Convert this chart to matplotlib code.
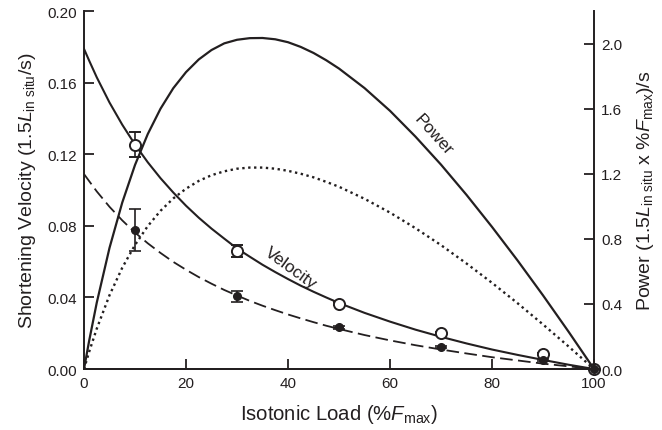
import numpy as np
import matplotlib
matplotlib.use("Agg")
import matplotlib.pyplot as plt

plt.rcParams['font.family'] = ['Liberation Sans', 'DejaVu Sans']
plt.rcParams['mathtext.fontset'] = 'custom'
plt.rcParams['mathtext.rm'] = 'Liberation Sans'
plt.rcParams['mathtext.it'] = 'Liberation Sans:italic'

ink = '#231f20'

# curve values (load in %Fmax)
load = [0, 1, 2.5, 5, 7.5, 10, 12.5, 15, 17.5, 20, 22.5, 25, 27.5, 30, 32.5,
        35, 37.5, 40, 42.5, 45, 47.5, 50, 55, 60, 65, 70, 75, 80, 85, 90,
        95, 100]
vel_solid = [0.179, 0.1725, 0.1631, 0.1490, 0.1366, 0.1255, 0.1156, 0.1067,
             0.0987, 0.0913, 0.0846, 0.0785, 0.0729, 0.0674, 0.0628, 0.0583,
             0.0542, 0.0503, 0.0466, 0.0432, 0.0400, 0.0369, 0.0314, 0.0265,
             0.0220, 0.0180, 0.0143, 0.0109, 0.0079, 0.0051, 0.0024, 0.0]
vel_dashed = [0.109, 0.1051, 0.0993, 0.0907, 0.0831, 0.0763, 0.0703, 0.0649,
              0.0599, 0.0555, 0.0514, 0.0477, 0.0442, 0.0411, 0.0381, 0.0354,
              0.0329, 0.0305, 0.0283, 0.0262, 0.0242, 0.0224, 0.0190, 0.0160,
              0.0133, 0.0109, 0.0087, 0.0066, 0.0048, 0.0030, 0.0015, 0.0]
pow_solid = [0.0, 0.172, 0.408, 0.745, 1.024, 1.255, 1.445, 1.601, 1.727,
             1.826, 1.904, 1.962, 2.003, 2.025, 2.035, 2.036, 2.028, 2.010,
             1.981, 1.944, 1.899, 1.848, 1.728, 1.588, 1.429, 1.257, 1.071,
             0.874, 0.668, 0.453, 0.230, 0.0]
pow_dotted = [0.0, 0.105, 0.248, 0.454, 0.623, 0.763, 0.879, 0.973, 1.049,
              1.109, 1.157, 1.192, 1.216, 1.232, 1.239, 1.239, 1.232, 1.219,
              1.201, 1.179, 1.151, 1.121, 1.047, 0.962, 0.866, 0.762, 0.649,
              0.530, 0.405, 0.274, 0.139, 0.0]

# measured points
pt_load = [10, 30, 50, 70, 90, 100]
open_v = [0.1254, 0.0662, 0.0364, 0.0203, 0.0084, 0.0]
open_err = [0.007, 0.0033, 0.0008, 0.0006, 0.0005, 0.0]
filled_v = [0.0779, 0.0407, 0.0233, 0.0121, 0.0052, 0.0]
filled_err = [0.0117, 0.003, 0.0008, 0.0006, 0.0005, 0.0]

fig = plt.figure(figsize=(6.62, 4.31), dpi=100)
ax = fig.add_axes([0.1269, 0.1415, 0.7704, 0.8299])
ax2 = ax.twinx()

ax.plot(load, vel_solid, color=ink, lw=1.5, zorder=3)
ax.plot(load, vel_dashed, color=ink, lw=1.3, dashes=(7, 3), zorder=3)

ax.errorbar(pt_load, open_v, yerr=open_err, fmt='o', ms=8, mfc='white',
            mec=ink, mew=1.4, ecolor=ink, elinewidth=1.2, capsize=4,
            capthick=1.2, zorder=5, clip_on=False)
ax.errorbar(pt_load, filled_v, yerr=filled_err, fmt='o', ms=5.5, mfc=ink,
            mec=ink, ecolor=ink, elinewidth=1.2, capsize=4, capthick=1.2,
            zorder=6, clip_on=False)

ax2.plot(load, pow_solid, color=ink, lw=1.6)
ax2.plot(load, pow_dotted, color=ink, lw=1.7, dashes=(1, 1.5))

ax.set_xlim(0, 100)
ax.set_ylim(0, 0.20)
ax2.set_ylim(0, 2.2)
ax.set_xticks([0, 20, 40, 60, 80, 100])
ax.set_yticks([0, 0.04, 0.08, 0.12, 0.16, 0.20])
ax.set_yticklabels(['0.00', '0.04', '0.08', '0.12', '0.16', '0.20'])
ax2.set_yticks([0, 0.4, 0.8, 1.2, 1.6, 2.0])
ax2.set_yticklabels(['0.0', '0.4', '0.8', '1.2', '1.6', '2.0'])

for a in (ax, ax2):
    a.spines['top'].set_visible(False)
    for s in a.spines.values():
        s.set_linewidth(1.4)
        s.set_color(ink)
    a.tick_params(direction='in', length=7, width=1.3, color=ink,
                  labelsize=11, labelcolor=ink, pad=5)
ax.spines['right'].set_visible(False)
ax2.spines['left'].set_visible(False)

ax.set_xlabel(r'Isotonic Load (%$\mathit{F}_{\mathrm{max}}$)', fontsize=14.6,
              color=ink, labelpad=9)
ax.set_ylabel(r'Shortening Velocity (1.5$\mathit{L}_{\mathrm{in\ situ}}$/s)',
              fontsize=14, color=ink, labelpad=7)
ax2.set_ylabel(r'Power (1.5$\mathit{L}_{\mathrm{in\ situ}}$ x %$\mathit{F}_{\mathrm{max}}$)/s',
               fontsize=14, color=ink, labelpad=9)

ax.text(40.6, 0.057, 'Velocity', rotation=-36, fontsize=12.5, color=ink,
        ha='center', va='center')
ax.text(68.6, 0.131, 'Power', rotation=-48, fontsize=12.5, color=ink,
        ha='center', va='center')

fig.savefig('out.png', dpi=100)
